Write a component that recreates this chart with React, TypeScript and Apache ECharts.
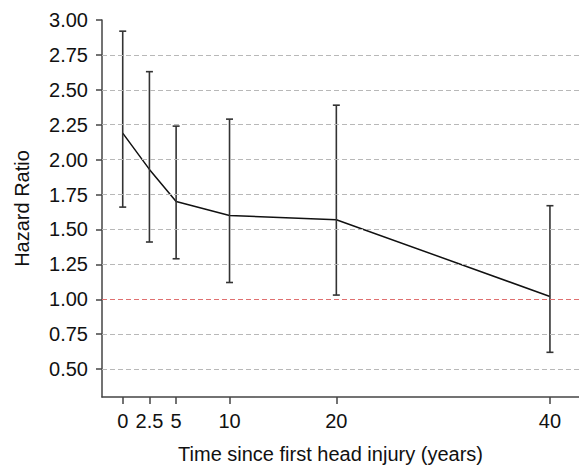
import React, { useEffect, useRef } from "react";
import * as echarts from "echarts";

const years = [0, 2.5, 5, 10, 20, 40];
const hazard = [2.19, 1.93, 1.70, 1.60, 1.57, 1.02];
const lower = [1.66, 1.41, 1.29, 1.12, 1.03, 0.62];
const upper = [2.92, 2.63, 2.24, 2.29, 2.39, 1.67];
const yTickValues = [0.5, 0.75, 1.0, 1.25, 1.5, 1.75, 2.0, 2.25, 2.5, 2.75, 3.0];
const gridValues = [0.5, 0.75, 1.0, 1.25, 1.5, 1.75, 2.0, 2.25, 2.5, 2.75];
const referenceValue = 1.0;

export default function App() {
  const ref = useRef<HTMLDivElement>(null);
  useEffect(() => {
    if (!ref.current) return;
    const chart = echarts.init(ref.current, undefined, { renderer: "svg" });
    const font = "Arial, 'Liberation Sans', sans-serif";
    const lineData = years.map((x, i) => [x, hazard[i]]);
    const barData = years.map((x, i) => [x, lower[i], upper[i]]);
    chart.setOption({
      animation: false,
      grid: { left: 102, top: 20, right: 0, bottom: 73 },
      xAxis: {
        type: "value",
        min: -1.94,
        max: 42.72,
        name: "Time since first head injury (years)",
        nameLocation: "middle",
        nameGap: 47,
        nameTextStyle: { fontSize: 20, color: "#111", fontFamily: font, padding: [0, 20, 0, 0] },
        axisLine: { show: true, onZero: false, lineStyle: { color: "#444", width: 1.5 } },
        axisTick: { show: true, length: 7, customValues: years, lineStyle: { color: "#444", width: 1.5 } },
        axisLabel: {
          customValues: years,
          margin: 14,
          fontSize: 20,
          color: "#111",
          fontFamily: font,
          formatter: (v: number) => String(v),
        },
        splitLine: { show: false },
      },
      yAxis: {
        type: "value",
        min: 0.3,
        max: 3.0,
        name: "Hazard Ratio",
        nameLocation: "middle",
        nameGap: 70,
        nameTextStyle: { fontSize: 20, color: "#111", fontFamily: font },
        axisLine: { show: true, onZero: false, lineStyle: { color: "#444", width: 1.5 } },
        axisTick: { show: true, length: 6, customValues: yTickValues, lineStyle: { color: "#444", width: 1.5 } },
        axisLabel: {
          customValues: yTickValues,
          margin: 14,
          fontSize: 20,
          color: "#111",
          fontFamily: font,
          formatter: (v: number) => v.toFixed(2),
        },
        splitLine: { show: false },
      },
      series: [
        {
          type: "line",
          data: lineData,
          symbol: "none",
          lineStyle: { color: "#111", width: 1.5 },
          z: 3,
          markLine: {
            silent: true,
            symbol: "none",
            label: { show: false },
            data: gridValues.map((v) => ({
              yAxis: v,
              lineStyle: {
                color: v === referenceValue ? "#e07070" : "#b8b8b8",
                type: [5, 3],
                width: 1,
              },
            })),
          },
        },
        {
          type: "custom",
          data: barData,
          z: 4,
          renderItem: (params: any, api: any) => {
            const x = api.value(0);
            const lo = api.coord([x, api.value(1)]);
            const hi = api.coord([x, api.value(2)]);
            const cap = 3.5;
            const style = { stroke: "#333", lineWidth: 1.6 };
            return {
              type: "group",
              children: [
                { type: "line", shape: { x1: lo[0], y1: lo[1], x2: hi[0], y2: hi[1] }, style },
                { type: "line", shape: { x1: lo[0] - cap, y1: lo[1], x2: lo[0] + cap, y2: lo[1] }, style },
                { type: "line", shape: { x1: hi[0] - cap, y1: hi[1], x2: hi[0] + cap, y2: hi[1] }, style },
              ],
            };
          },
        },
      ],
    });
    return () => chart.dispose();
  }, []);
  return (
    <div
      ref={ref}
      style={{ position: "absolute", left: 0, top: 0, width: 579, height: 470, background: "#fff" }}
    />
  );
}
